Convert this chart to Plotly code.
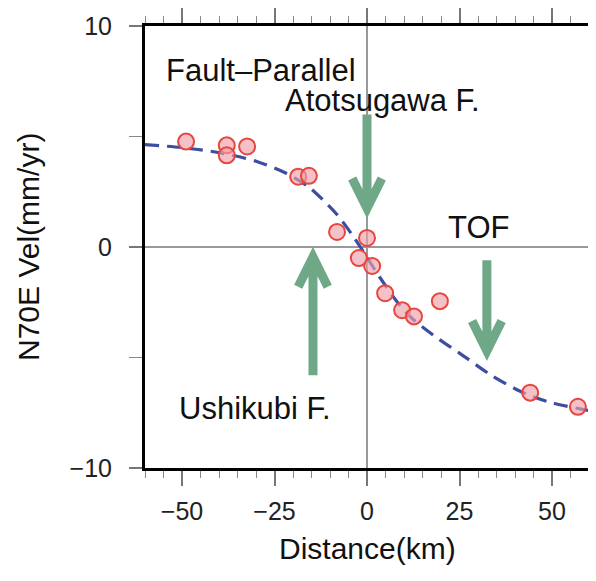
import plotly.graph_objects as go

# Observed GNSS velocities (fault-parallel component)
distance_km = [-48.9, -37.9, -37.9, -32.4, -18.6, -15.7, -8.1, -2.2, 0.0, 1.4,
               4.9, 9.5, 12.7, 19.7, 44.1, 57.0]
velocity_mm_yr = [4.77, 4.6, 4.15, 4.55, 3.18, 3.22, 0.68, -0.5, 0.41, -0.86,
                  -2.09, -2.86, -3.14, -2.45, -6.59, -7.23]

# Model curve (dashed)
model_x = [-60, -50, -40, -30, -22, -16, -12, -8, -4, -1, 2, 5, 8, 12, 18, 25, 34, 43, 50, 60]
model_y = [4.63, 4.5, 4.27, 3.88, 3.35, 2.75, 2.15, 1.45, 0.55, -0.2, -1.0, -1.75,
           -2.45, -3.2, -4.0, -4.8, -5.85, -6.65, -7.05, -7.4]

x_ticks = [-50, -25, 0, 25, 50]
y_ticks = [-10, 0, 10]

# Fault arrows: x position, tail y, tip y
arrow_x = [0.0, -14.6, 32.4]
arrow_tail = [6.0, -5.8, -0.6]
arrow_tip = [1.75, -0.45, -4.7]

labels = ["Fault\u2013Parallel", "Atotsugawa F.", "TOF", "Ushikubi F."]
label_x = [-54.8, -22.6, 21.3, -51.3]
label_y = [8.0, 6.65, 0.9, -7.3]

x_title = "Distance(km)"
y_title = "N70E Vel(mm/yr)"

FONT = "Liberation Sans, Arial, Helvetica, sans-serif"
GREEN = "#6ea886"

fig = go.Figure()
fig.add_trace(go.Scatter(
    x=model_x, y=model_y, mode="lines",
    line=dict(color="#3b4ea3", width=3.2, dash="14px,8px", shape="spline", smoothing=0.8),
    hoverinfo="skip", showlegend=False))
fig.add_trace(go.Scatter(
    x=distance_km, y=velocity_mm_yr, mode="markers",
    marker=dict(size=16, color="rgba(240,160,170,0.65)",
                line=dict(color="#e8453c", width=2)),
    showlegend=False))

shapes = []
for ax, t0, t1 in zip(arrow_x, arrow_tail, arrow_tip):
    sgn = 1 if t1 < t0 else -1  # 1 for downward arrow
    dx = 4.0
    dy = 1.35 * sgn
    path = (f"M {ax},{t0} L {ax},{t1} "
            f"M {ax - dx},{t1 + dy} L {ax},{t1} L {ax + dx},{t1 + dy}")
    shapes.append(dict(type="path", path=path, xref="x", yref="y",
                       line=dict(color=GREEN, width=9), layer="above"))

annotations = []
for txt, lx, ly in zip(labels, label_x, label_y):
    annotations.append(dict(x=lx, y=ly, xref="x", yref="y", text=txt,
                            showarrow=False, xanchor="left", yanchor="middle",
                            font=dict(family=FONT, size=31, color="#111")))
annotations.append(dict(x=0.5, y=0, xref="paper", yref="paper", text=x_title,
                        showarrow=False, xanchor="center", yanchor="middle", yshift=-80,
                        font=dict(family=FONT, size=30, color="#111")))
annotations.append(dict(x=0, y=0.5, xref="paper", yref="paper", text=y_title,
                        showarrow=False, xanchor="center", yanchor="middle", xshift=-117,
                        textangle=-90, font=dict(family=FONT, size=30, color="#111")))

# page body adds an 8px margin, so the figure is sized to fit the window
fig.update_layout(
    width=588, height=573,
    margin=dict(l=137, r=7, t=18, b=113),
    paper_bgcolor="white", plot_bgcolor="white",
    font=dict(family=FONT, color="#111"),
    shapes=shapes, annotations=annotations,
)
fig.update_xaxes(
    range=[-60, 60], tickvals=x_ticks, ticks="outside", ticklen=15, tickwidth=1.5,
    tickcolor="#777", tickfont=dict(size=25, family=FONT, color="#222"),
    showline=True, linewidth=3, linecolor="black", mirror="ticks", automargin=False,
    showgrid=False, zeroline=True, zerolinecolor="#999", zerolinewidth=1.5,
    minor=dict(dtick=5, tick0=0, ticks="outside", ticklen=7, tickwidth=1.2, tickcolor="#888"),
    ticklabelstandoff=4,
)
fig.update_yaxes(
    range=[-10, 10], tickvals=y_ticks, ticks="outside", ticklen=13, tickwidth=1.5,
    tickcolor="#777", tickfont=dict(size=25, family=FONT, color="#222"),
    showline=True, linewidth=3, linecolor="black", mirror="ticks", automargin=False,
    showgrid=False, zeroline=True, zerolinecolor="#999", zerolinewidth=1.5,
    minor=dict(dtick=5, tick0=0, ticks="outside", ticklen=13, tickwidth=1.2, tickcolor="#888"),
    ticklabelstandoff=12,
)
fig.write_html("out.html")
